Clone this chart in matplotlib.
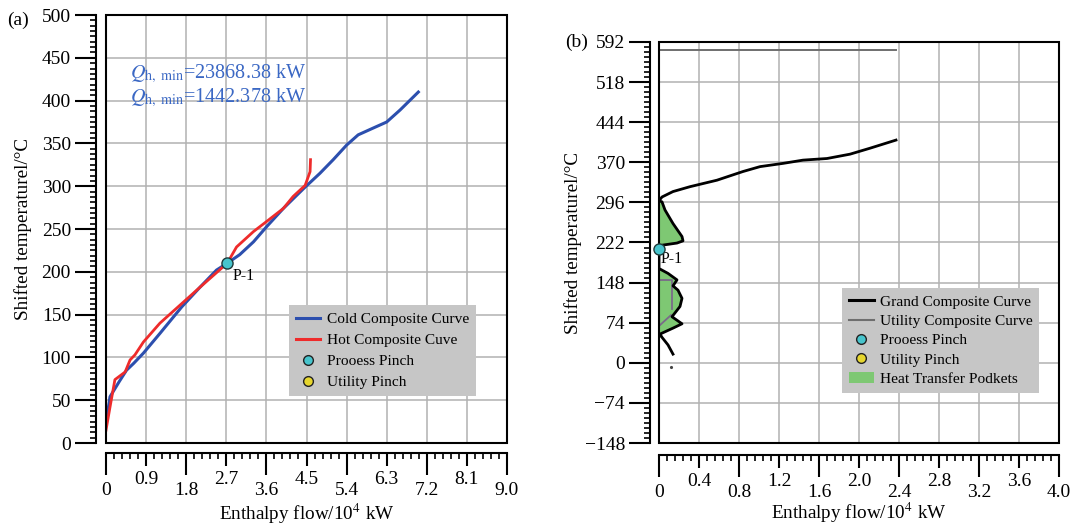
import matplotlib
matplotlib.use("Agg")
import matplotlib.pyplot as plt
from matplotlib.ticker import MultipleLocator, AutoMinorLocator
from matplotlib.patches import Rectangle, Patch
from matplotlib.lines import Line2D

plt.rcParams['font.family'] = ['Liberation Serif', 'DejaVu Serif']
plt.rcParams['mathtext.fontset'] = 'stix'

# ---------------- data: panel (a) composite curves ----------------
cold_h = [0.02, 0.09, 0.30, 0.46, 0.62, 0.84, 1.21, 1.51, 1.70, 2.11, 2.48, 2.72,
          3.00, 3.31, 3.61, 3.98, 4.43, 4.80, 5.10, 5.40, 5.66, 6.00, 6.30, 6.60, 7.01]
cold_t = [30, 54, 72, 85, 93, 105, 128, 147, 159, 182, 202, 210,
          220, 235, 253, 274, 297, 315, 331, 348, 360, 368, 375, 389, 410]
hot_h = [0.00, 0.09, 0.20, 0.43, 0.54, 0.65, 0.84, 1.21, 1.66, 2.11, 2.72,
         2.93, 3.31, 3.61, 3.98, 4.20, 4.47, 4.58, 4.59]
hot_t = [15, 42, 74, 83, 97, 103, 118, 140, 161, 182, 210,
         229, 247, 259, 274, 288, 301, 317, 331]
pinch_a_h = [2.72]
pinch_a_t = [210]
qh_text = "23868.38 kW"
qc_text = "1442.378 kW"

# ---------------- data: panel (b) grand composite curve ----------------
gcc_h = [2.37, 2.11, 1.91, 1.68, 1.44, 1.24, 1.01, 0.84, 0.58, 0.31, 0.14, 0.03, 0.00,
         0.03, 0.06, 0.14, 0.23, 0.24, 0.18, 0.03, 0.00,
         0.00, 0.09, 0.18, 0.14, 0.19, 0.23, 0.21, 0.13, 0.23, 0.14, 0.01,
         0.03, 0.09, 0.14]
gcc_t = [411, 396, 385, 377, 374, 368, 362, 353, 337, 325, 316, 306, 299,
         297, 282, 257, 233, 225, 221, 217, 210,
         174, 165, 153, 142, 134, 119, 104, 85, 72, 64, 53,
         47, 33, 16]
pocket1 = (12, 21)   # index range of first heat-transfer pocket
pocket2 = (21, 32)   # index range of second heat-transfer pocket
util_top_h = [0.0, 2.37]
util_top_t = [578, 578]
util_in1_h = [0.0, 0.13, 0.13]
util_in1_t = [153, 153, 100]
util_in2_h = [0.12, 0.0]
util_in2_t = [88, 68]
stray_h = [0.12]
stray_t = [-8]
pinch_b_h = [0.0]
pinch_b_t = [210]

# ticks
a_yticks = [0, 50, 100, 150, 200, 250, 300, 350, 400, 450, 500]
a_xticks = [0, 0.9, 1.8, 2.7, 3.6, 4.5, 5.4, 6.3, 7.2, 8.1, 9.0]
a_xlabels = ["0", "0.9", "1.8", "2.7", "3.6", "4.5", "5.4", "6.3", "7.2", "8.1", "9.0"]
b_yticks = [-148, -74, 0, 74, 148, 222, 296, 370, 444, 518, 592]
b_ylabels = ["\u2212148", "\u221274", "0", "74", "148", "222", "296", "370", "444", "518", "592"]
b_xticks = [0, 0.4, 0.8, 1.2, 1.6, 2.0, 2.4, 2.8, 3.2, 3.6, 4.0]
b_xlabels = ["0", "0.4", "0.8", "1.2", "1.6", "2.0", "2.4", "2.8", "3.2", "3.6", "4.0"]

W, H = 1092, 528
fig = plt.figure(figsize=(W / 100, H / 100), dpi=100)

def px_rect(x0, y0, x1, y1):
    return [x0 / W, 1 - y1 / H, (x1 - x0) / W, (y1 - y0) / H]

axA = fig.add_axes(px_rect(106, 15, 507, 443))
axB = fig.add_axes(px_rect(659, 42, 1059, 443))

GRID = '#b2b2b2'
TICKFS = 14
LABFS = 13.8
LEGFS = 11.1

def style_axis(ax, xt, xl, yt, yl, xminor, yminor_n, yspine_out, xspine_out):
    for s in ['top', 'right']:
        ax.spines[s].set_visible(False)
    ax.spines['left'].set_position(('outward', yspine_out))
    ax.spines['bottom'].set_position(('outward', xspine_out))
    ax.spines['left'].set_linewidth(1.5)
    ax.spines['bottom'].set_linewidth(1.5)
    ax.add_patch(Rectangle((0, 0), 1, 1, transform=ax.transAxes, fill=False,
                           lw=1.5, ec='black', clip_on=False, zorder=5))
    ax.set_yticks(yt, labels=yl)
    ax.set_xticks(xt, labels=xl)
    ax.yaxis.set_minor_locator(AutoMinorLocator(yminor_n))
    ax.xaxis.set_minor_locator(MultipleLocator(xminor))
    ax.tick_params(axis='y', which='major', length=15, width=1.5, pad=3, labelsize=TICKFS)
    ax.tick_params(axis='y', which='minor', length=4.5, width=1.2)
    ax.tick_params(axis='x', which='major', length=16, width=1.5, pad=5, labelsize=TICKFS)
    ax.tick_params(axis='x', which='minor', length=4.5, width=1.2)
    ax.grid(True, which='major', color=GRID, lw=1.1, zorder=0)
    ax.set_axisbelow(True)
    # staggered labels: every other tick shorter with raised label
    ticks = ax.xaxis.get_major_ticks()
    for i, t in enumerate(ticks):
        if i % 2 == 1:
            t.set_pad(-3.0)
            t.tick1line.set_markersize(9.5)

style_axis(axA, a_xticks, a_xlabels, a_yticks, [str(v) for v in a_yticks],
           0.18, 8, 7.2, 7.2)
axA.set_xlim(0, 9.0)
axA.set_ylim(0, 500)

style_axis(axB, b_xticks, b_xlabels, b_yticks, b_ylabels,
           0.08, 8, 6.5, 8.6)
axB.set_xlim(0, 4.0)
axB.set_ylim(-148, 592)

# ---------------- panel (a) ----------------
BLUE = '#2c4fae'
RED = '#ee2b2b'
CYAN = '#47c4cc'
YEL = '#e6d62e'
axA.plot(cold_h, cold_t, color=BLUE, lw=2.2, zorder=3, solid_joinstyle='round')
axA.plot(hot_h, hot_t, color=RED, lw=2.0, zorder=3.5, solid_joinstyle='round')
axA.plot(pinch_a_h, pinch_a_t, 'o', ms=8, mfc=CYAN, mec='#1e3a3a', mew=1.0, zorder=6)
axA.text(pinch_a_h[0] + 0.12, pinch_a_t[0] - 5, "P-1", fontsize=11.5, va='top', ha='left')

QCOL = '#3b68c4'
axA.text(0.06, 0.852, r"$Q_{\mathrm{h,\ min}}$=" + qh_text, transform=axA.transAxes,
         color=QCOL, fontsize=14.5, ha='left', va='baseline')
axA.text(0.06, 0.797, r"$Q_{\mathrm{h,\ min}}$=" + qc_text, transform=axA.transAxes,
         color=QCOL, fontsize=14.5, ha='left', va='baseline')

handlesA = [
    Line2D([], [], color=BLUE, lw=2.2),
    Line2D([], [], color=RED, lw=2.2),
    Line2D([], [], ls='none', marker='o', ms=7, mfc=CYAN, mec='#222222', mew=1.0),
    Line2D([], [], ls='none', marker='o', ms=7, mfc=YEL, mec='#222222', mew=1.0),
]
labelsA = ["Cold Composite Curve", "Hot Composite Cuve", "Prooess Pinch", "Utility Pinch"]
legA = axA.legend(handlesA, labelsA, loc='upper left', bbox_to_anchor=(0.456, 0.322),
                  borderaxespad=0, fontsize=LEGFS, frameon=True, fancybox=False,
                  facecolor='#c6c6c6', edgecolor='none', framealpha=1,
                  handlelength=1.6, handletextpad=0.4, labelspacing=0.48,
                  borderpad=0.45)
legA.set_zorder(7)

axA.set_xlabel(r"Enthalpy flow/10$^{4}$ kW", fontsize=LABFS)
axA.xaxis.set_label_coords(0.5, -0.136)
axA.set_ylabel("Shifted temperaturel/\u00b0C", fontsize=LABFS)
axA.yaxis.set_label_coords(-0.185, 0.5)
fig.text(7 / W, 1 - 20 / H, "(a)", fontsize=14, ha='left', va='center')

# ---------------- panel (b) ----------------
GREEN = '#7ec873'
GRAY = '#6e6e6e'
i0, i1 = pocket1
axB.fill_betweenx(gcc_t[i0:i1 + 1], 0, gcc_h[i0:i1 + 1], color=GREEN, lw=0, zorder=2)
i0, i1 = pocket2
axB.fill_betweenx(gcc_t[i0:i1 + 1], 0, gcc_h[i0:i1 + 1], color=GREEN, lw=0, zorder=2)
axB.plot(util_top_h, util_top_t, color=GRAY, lw=1.4, zorder=3)
axB.plot(util_in1_h, util_in1_t, color='#7a6a8a', lw=1.3, zorder=3)
axB.plot(util_in2_h, util_in2_t, color='#7a6a8a', lw=1.3, zorder=3)
axB.plot(gcc_h, gcc_t, color='black', lw=2.0, zorder=4, solid_joinstyle='round')
axB.plot(stray_h, stray_t, '.', color='#444444', ms=2.5, zorder=4)
axB.plot(pinch_b_h, pinch_b_t, 'o', ms=8, mfc=CYAN, mec='#1e3a3a', mew=1.0,
         zorder=6, clip_on=False)
axB.text(pinch_b_h[0] + 0.02, pinch_b_t[0] - 4, "P-1", fontsize=11.5, va='top', ha='left')

handlesB = [
    Line2D([], [], color='black', lw=2.2),
    Line2D([], [], color=GRAY, lw=1.5),
    Line2D([], [], ls='none', marker='o', ms=7, mfc=CYAN, mec='#222222', mew=1.0),
    Line2D([], [], ls='none', marker='o', ms=7, mfc=YEL, mec='#222222', mew=1.0),
    Patch(facecolor=GREEN, edgecolor='none'),
]
labelsB = ["Grand Composite Curve", "Utility Composite Curve", "Prooess Pinch",
           "Utility Pinch", "Heat Transfer Podkets"]
legB = axB.legend(handlesB, labelsB, loc='upper left', bbox_to_anchor=(0.4575, 0.3865),
                  borderaxespad=0, fontsize=LEGFS, frameon=True, fancybox=False,
                  facecolor='#c6c6c6', edgecolor='none', framealpha=1,
                  handlelength=1.6, handletextpad=0.4, labelspacing=0.36,
                  borderpad=0.45)
legB.set_zorder(7)

axB.set_xlabel(r"Enthalpy flow/10$^{4}$ kW", fontsize=LABFS)
axB.xaxis.set_label_coords(0.5, -0.143)
axB.set_ylabel("Shifted temperaturel/\u00b0C", fontsize=LABFS)
axB.yaxis.set_label_coords(-0.1925, 0.5)
fig.text(565 / W, 1 - 42 / H, "(b)", fontsize=14, ha='left', va='center')

fig.savefig("out.png", dpi=100)
